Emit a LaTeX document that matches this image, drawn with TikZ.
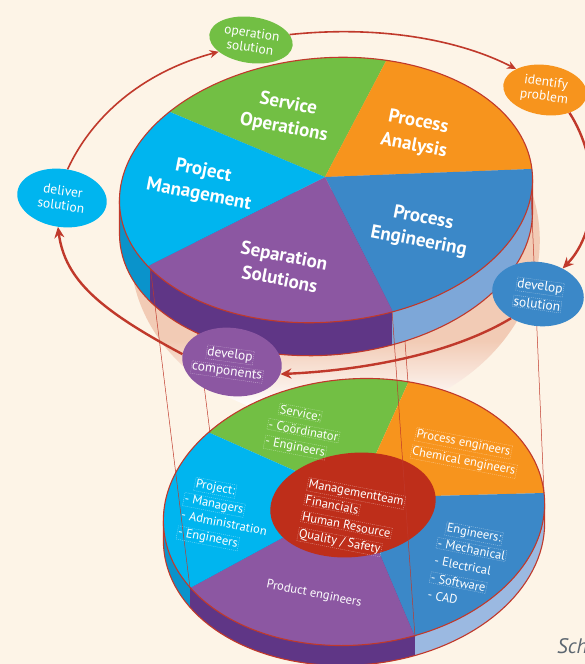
\documentclass[tikz,border=0pt]{standalone}
\usepackage{fontspec}
\setmainfont{PT Sans}
\usetikzlibrary{arrows.meta,shapes.geometric}
\definecolor{bgc}{HTML}{FDF4E7}
\definecolor{cgreen}{HTML}{72BF44}
\definecolor{corange}{HTML}{F7941D}
\definecolor{cblue}{HTML}{3B88C8}
\definecolor{cblueside}{HTML}{7DA7D8}
\definecolor{cbluesideb}{HTML}{9BB9E1}
\definecolor{ccyan}{HTML}{00B5EF}
\definecolor{ccyanside}{HTML}{0A93CB}
\definecolor{cpurple}{HTML}{8C57A2}
\definecolor{cpurpleside}{HTML}{5F3686}
\definecolor{cred}{HTML}{BE2E1A}
\definecolor{cline}{HTML}{C0392B}
\definecolor{csalmon}{HTML}{F2CBB5}
\definecolor{cgray}{HTML}{5C6670}
\pgfdeclareverticalshading{shadowshade}{100bp}{color(0bp)=(white); color(28bp)=(white); color(37bp)=(csalmon); color(100bp)=(csalmon)}
\begin{document}
\begin{tikzpicture}[x=1pt,y=-1pt,
  redline/.style={draw=cline,line width=1.1pt},
  proj/.style={draw=cline,line width=0.5pt},
  bubble/.style={ellipse,inner sep=0pt,text=white,align=center,font=\fontsize{13.5}{14.5}\selectfont,rotate=-8},
  btxt/.style={text=white,font=\fontsize{13.5}{14.5}\selectfont,rotate=-8,inner sep=0.8pt,draw=white,draw opacity=0.55,dash pattern=on 1pt off 1pt,line width=0.35pt},
  toplabel/.style={text=white,align=center,font=\bfseries\fontsize{19}{24}\selectfont,rotate=-11},
  plabel/.style={text=white,anchor=base west,font=\fontsize{12.5}{15}\selectfont,inner sep=1pt,rotate=-11},
  tbox/.style={plabel,draw=white,draw opacity=0.55,dash pattern=on 1pt off 1pt,line width=0.35pt},
  arrowthin/.style={draw=cline,line width=1.6pt,-{Stealth[length=9pt,width=8pt]}},
  arrowthick/.style={draw=cline,line width=2.4pt,-{Stealth[length=11pt,width=10pt]}},
]
\fill[bgc] (0,0) rectangle (585,664);
\useasboundingbox (0,0) rectangle (585,664);

% shadow below the upper cylinder
\shade[shading=shadowshade] (335,245) ellipse [x radius=205pt, y radius=175pt, rotate=5];

% ---------- lower pie ----------
\begin{scope}
\clip plot[domain=176.51:356.51,samples=72,variable=\t] ({354+191*cos(\t)*cos(5)-133*sin(\t)*sin(5)},{532-191*cos(\t)*sin(5)-133*sin(\t)*cos(5)}) -- (544.63,503.44) -- (163.37,520.56) -- cycle;
\fill[ccyanside] (140,380) rectangle (190,700);
\fill[cpurpleside] (190,380) rectangle (415,700);
\fill[cbluesideb] (415,380) rectangle (600,700);
\end{scope}
\draw[redline] (163.37,520.56) -- plot[domain=176.51:356.51,samples=72,variable=\t] ({354+191*cos(\t)*cos(5)-133*sin(\t)*sin(5)},{532-191*cos(\t)*sin(5)-133*sin(\t)*cos(5)}) -- (544.63,503.44);
\begin{scope}
\clip (354,512) ellipse [x radius=191pt, y radius=133pt, rotate=5];
\fill[cgreen] (356,498) -- (64,368) -- (64,268) -- (460,268) -- cycle;
\fill[corange] (356,498) -- (460,268) -- (732,268) -- (732,488) -- cycle;
\fill[cblue] (356,498) -- (732,488) -- (732,776) -- (474,776) -- cycle;
\fill[cpurple] (356,498) -- (474,776) -- (24,776) -- (24,678) -- cycle;
\fill[ccyan] (356,498) -- (24,678) -- (24,368) -- (64,368) -- cycle;
\end{scope}
\draw[redline] (354,512) ellipse [x radius=191pt, y radius=133pt, rotate=5];
\fill[cred] (353,505) ellipse [x radius=83pt, y radius=52pt, rotate=6];

% projection lines behind the upper cylinder
\draw[proj] (170,112) -- (210,433);
\draw[proj] (385,63) -- (408,383);

% ---------- upper pie ----------
\begin{scope}
\clip plot[domain=176.81:356.81,samples=72,variable=\t] ({326+207*cos(\t)*cos(5)-132*sin(\t)*sin(5)},{223-207*cos(\t)*sin(5)-132*sin(\t)*cos(5)}) -- (532.53,179.31) -- (119.47,200.69) -- cycle;
\fill[ccyanside] (100,150) rectangle (150,400);
\fill[cpurpleside] (150,150) rectangle (392,400);
\fill[cblueside] (392,150) rectangle (600,400);
\end{scope}
\draw[redline] (119.47,200.69) -- plot[domain=176.81:356.81,samples=72,variable=\t] ({326+207*cos(\t)*cos(5)-132*sin(\t)*sin(5)},{223-207*cos(\t)*sin(5)-132*sin(\t)*cos(5)}) -- (532.53,179.31);

% projection lines in front
\draw[proj] (150,265) -- (190,588);
\draw[proj] (392,310) -- (415,637);
\draw[proj] (530,169) -- (544,493);

\begin{scope}
\clip (326,190) ellipse [x radius=207pt, y radius=132pt, rotate=5];
\fill[cgreen] (325,177) -- (15,47) -- (15,-60) -- (445,-51) -- cycle;
\fill[corange] (325,177) -- (445,-51) -- (735,-51) -- (735,161) -- cycle;
\fill[cblue] (325,177) -- (735,161) -- (735,443) -- (459,443) -- cycle;
\fill[cpurple] (325,177) -- (459,443) -- (-25,443) -- (-25,353) -- cycle;
\fill[ccyan] (325,177) -- (-25,353) -- (-25,47) -- (15,47) -- cycle;
\end{scope}
\draw[redline] (326,190) ellipse [x radius=207pt, y radius=132pt, rotate=5];

% top labels
\node[toplabel] (so) at (286,116) {Service\\Operations};
\node[toplabel] (pa) at (416,134) {Process\\Analysis};
\node[toplabel] (pm) at (201,183) {Project\\Management};
\node[toplabel] (pe) at (421,230) {Process\\Engineering};
\node[toplabel] (ss) at (282,267) {Separation\\Solutions};

% lower pie labels
\begin{scope}[shift={(267,428)},rotate=-11]
\node[tbox] (sv1) at (8,-17) {Service:};
\node[tbox] (sv2) at (0,0) {- Coördinator};
\node[tbox] (sv3) at (0,17) {- Engineers};
\end{scope}
\begin{scope}[shift={(415,437)},rotate=-11]
\node[tbox] (pr1) at (0,0) {Process engineers};
\node[tbox] (pr2) at (-1,18) {Chemical engineers};
\end{scope}
\begin{scope}[shift={(183,502)},rotate=-11]
\node[tbox] (pj1) at (8,-17) {Project:};
\node[tbox] (pj2) at (0,0) {- Managers};
\node[plabel] (pj3) at (0,17) {- Administration};
\node[tbox] (pj4) at (0,34) {- Engineers};
\end{scope}
\begin{scope}[shift={(307,487)},rotate=-11]
\node[tbox] (mg1) at (0,0) {Managementteam};
\node[tbox] (mg2) at (0,17) {Financials};
\node[tbox] (mg3) at (0,34) {Human Resource};
\node[tbox] (mg4) at (0,51) {Quality / Safety};
\end{scope}
\begin{scope}[shift={(436,547)},rotate=-11]
\node[tbox] (en1) at (6,-17) {Engineers:};
\node[tbox] (en2) at (0,0) {- Mechanical};
\node[plabel] (en3) at (0,17.5) {- Electrical};
\node[tbox] (en4) at (0,35) {- Software};
\node[plabel] (en5) at (0,52.5) {- CAD};
\end{scope}
\node[text=white,font=\fontsize{12.5}{15}\selectfont,rotate=-11] (prod) at (314,594) {Product engineers};

% bubbles
\node[bubble,fill=cgreen,minimum width=84pt,minimum height=46pt] (op) at (251,40) {operation\\solution};
\node[bubble,fill=corange,minimum width=84pt,minimum height=50pt] (idp) at (545,90) {identify\\problem};
\node[bubble,fill=ccyan,minimum width=90pt,minimum height=58pt] (del) at (62,198) {deliver\\solution};
\node[bubble,fill=cblue,minimum width=92pt,minimum height=64pt] (dsol) at (538,294) {};
\node[bubble,fill=cpurple,minimum width=100pt,minimum height=68pt] (dcomp) at (232,362) {};
\node[btxt] (dsol1) at (540,287) {develop};
\node[btxt] (dsol2) at (537,304) {solution};
\node[btxt] (dcomp1) at (230,355) {develop};
\node[btxt] (dcomp2) at (227,372) {components};

% cycle arrows
\draw[arrowthin] (op.16) .. controls (380,25) and (460,40) .. (idp.152);
\draw[arrowthick] (idp.-35) .. controls (600,160) and (600,230) .. (dsol.54);
\draw[arrowthick] (dsol.230) .. controls (455,352) and (370,370) .. (dcomp.-6);
\draw[arrowthick] (dcomp.179) .. controls (100,310) and (65,280) .. (del.270);
\draw[arrowthin] (del.87) .. controls (95,110) and (150,70) .. (op.208);

\node[anchor=base west,text=cgray,font=\itshape\fontsize{21}{24}\selectfont,inner sep=0pt] (sch) at (557,653) {Sch};
\end{tikzpicture}
\end{document}
